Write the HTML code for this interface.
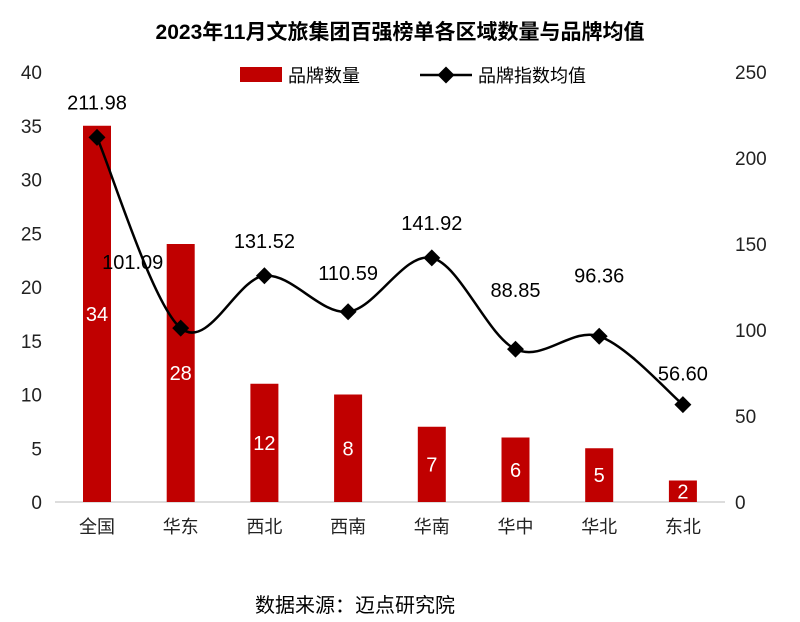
<!DOCTYPE html>
<html><head><meta charset="utf-8"><style>
body{margin:0;background:#fff;font-family:"Liberation Sans","Noto Sans CJK SC",sans-serif}
</style></head><body>
<svg id="c" width="800" height="622" style="display:block"></svg>
<script>
const categories=["全国","华东","西北","西南","华南","华中","华北","东北"];
const barHeights=[35,24,11,10,7,6,5,2];
const barLabels=["34","28","12","8","7","6","5","2"];
const lineValues=[211.98,101.09,131.52,110.59,141.92,88.85,96.36,56.60];
const leftTicks=[0,5,10,15,20,25,30,35,40];
const rightTicks=[0,50,100,150,200,250];
const NS="http://www.w3.org/2000/svg";
const svg=document.getElementById('c');
const y0=502,yTop=72;
const yL=v=>y0-(y0-yTop)*v/40;
const yR=v=>y0-(y0-yTop)*v/250;
const xC=i=>97+i*83.7;
const labDx=[0,-48,0,0,0,0,0,0];
const labDy=[0,-31,0,-4,0,-24,-26,4];
function mk(t,a,p){const e=document.createElementNS(NS,t);for(const k in a)e.setAttribute(k,a[k]);(p||svg).appendChild(e);return e;}
let t=mk('text',{x:400,y:39,'text-anchor':'middle','font-size':21,'font-weight':'bold',fill:'#000'});
t.textContent="2023年11月文旅集团百强榜单各区域数量与品牌均值";

leftTicks.forEach(v=>{const e=mk('text',{x:42,y:yL(v)+7,'text-anchor':'end','font-size':19,fill:'#222'});e.textContent=v;

});
rightTicks.forEach(v=>{const e=mk('text',{x:735,y:yR(v)+7,'text-anchor':'start','font-size':19,fill:'#222'});e.textContent=v;

});
let ax=mk('line',{x1:55,x2:725,y1:y0,y2:y0,stroke:'#bbb','stroke-width':1});

categories.forEach((c,i)=>{
 const b=mk('rect',{x:xC(i)-14,y:yL(barHeights[i]),width:28,height:y0-yL(barHeights[i]),fill:'#c00000'});
 
 
 const bl=mk('text',{x:xC(i),y:(yL(barHeights[i])+y0)/2+7,'text-anchor':'middle','font-size':20,fill:'#fff'});bl.textContent=barLabels[i];
 
 
 const cl=mk('text',{x:xC(i),y:533,'text-anchor':'middle','font-size':18,fill:'#222'});cl.textContent=c;
 
 
});
const pts=lineValues.map((v,i)=>[xC(i),yR(v)]);
let d=`M${pts[0][0]},${pts[0][1]}`;
for(let i=0;i<pts.length-1;i++){const p0=pts[Math.max(0,i-1)],p1=pts[i],p2=pts[i+1],p3=pts[Math.min(pts.length-1,i+2)];
 d+=` C${p1[0]+(p2[0]-p0[0])/6},${p1[1]+(p2[1]-p0[1])/6} ${p2[0]-(p3[0]-p1[0])/6},${p2[1]-(p3[1]-p1[1])/6} ${p2[0]},${p2[1]}`;}
const ln=mk('path',{d:d,fill:'none',stroke:'#000','stroke-width':2.5});

pts.forEach((p,i)=>{
 const m=mk('rect',{x:p[0]-6,y:p[1]-6,width:12,height:12,fill:'#000',transform:`rotate(45 ${p[0]} ${p[1]})`});
 
 
 const l=mk('text',{x:p[0]+labDx[i],y:p[1]-28+labDy[i],'text-anchor':'middle','font-size':20,fill:'#000'});l.textContent=lineValues[i].toFixed(2);
 
 
});
const g=mk('g',{});
mk('rect',{x:240,y:67,width:42,height:15,fill:'#c00000'},g);
let lt=mk('text',{x:288,y:82,'font-size':18,fill:'#000'},g);lt.textContent="品牌数量";
mk('line',{x1:420,x2:472,y1:75,y2:75,stroke:'#000','stroke-width':2.5},g);
mk('rect',{x:440,y:69,width:12,height:12,fill:'#000',transform:'rotate(45 446 75)'},g);
let lt2=mk('text',{x:478,y:82,'font-size':18,fill:'#000'},g);lt2.textContent="品牌指数均值";
let s=mk('text',{x:355,y:612,'text-anchor':'middle','font-size':20,fill:'#000'});s.textContent="数据来源：迈点研究院";

</script>
</body></html>
